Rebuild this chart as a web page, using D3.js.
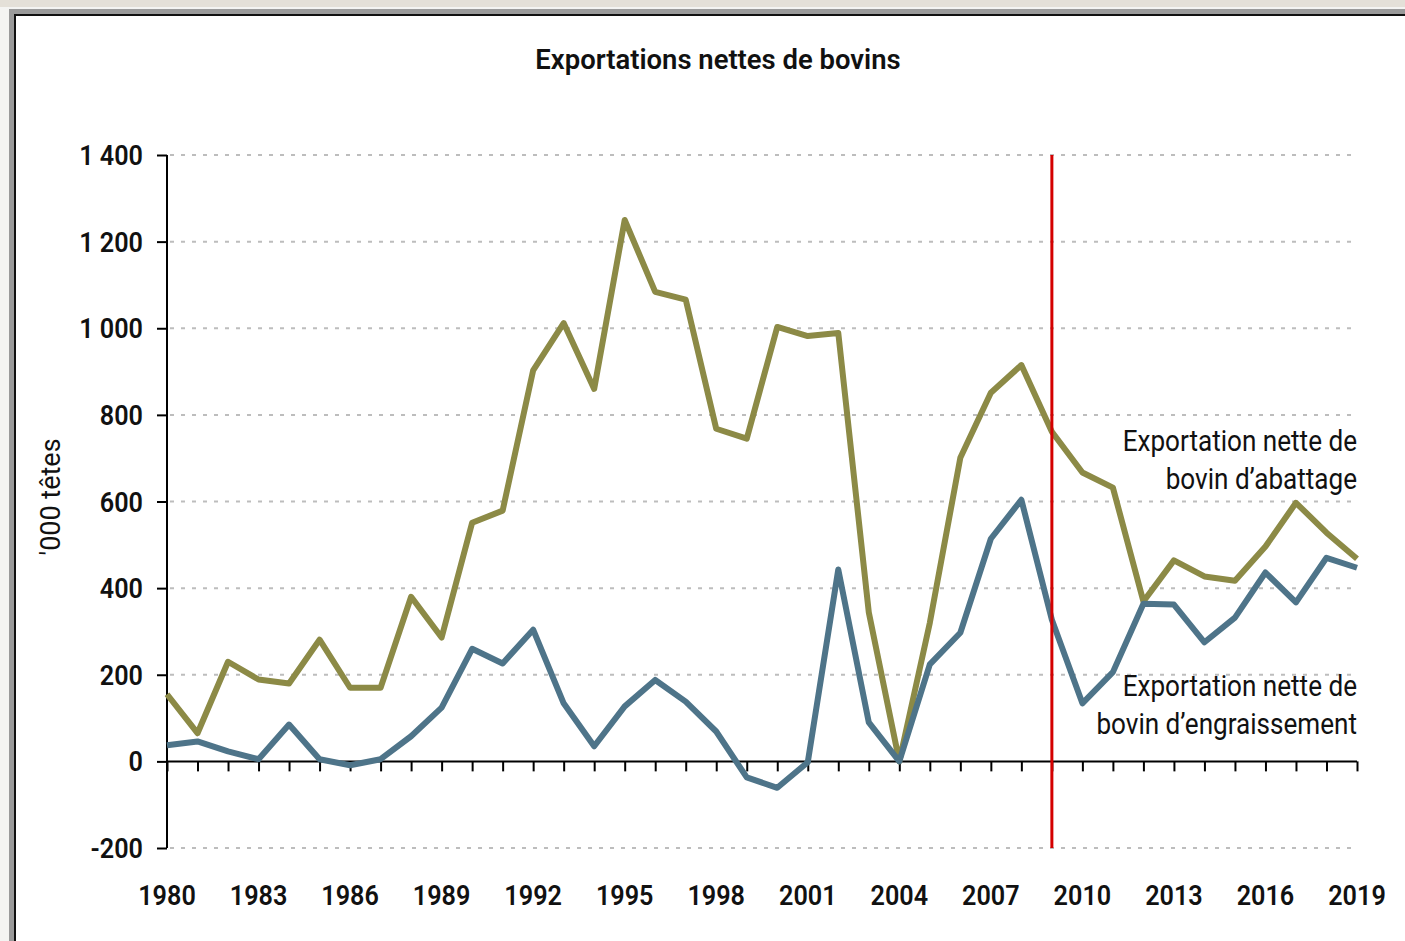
<!DOCTYPE html>
<html>
<head>
<meta charset="utf-8">
<script src="https://cdn.jsdelivr.net/npm/d3@7"></script>
<style>
  body { margin: 0; background: #e4e0d8; }
  text { font-family: "Liberation Sans Narrow", "Arial Narrow", "Roboto", sans-serif; fill: #111; }
</style>
</head>
<body>
<div id="container"></div>
<script>
let width = 1405;
let height = 941;

// data, '000 head
let years = d3.range(1980, 2020);
let abattage = [155, 65, 230, 189, 180, 281, 170, 170, 380, 286,
  551, 579, 903, 1012, 860, 1250, 1084, 1066, 768, 745,
  1003, 982, 989, 344, 0, 320, 701, 851, 915, 761,
  667, 632, 369, 464, 427, 417, 496, 597, 528, 468];
let engraissement = [37, 46, 23, 5, 85, 5, -9, 5, 58, 124,
  260, 226, 304, 134, 35, 127, 188, 138, 69, -37,
  -61, -2, 443, 90, 0, 224, 297, 514, 604, 327,
  134, 206, 364, 362, 275, 332, 436, 367, 470, 447];
let yTicks = [-200, 0, 200, 400, 600, 800, 1000, 1200, 1400];
let xLabels = [1980, 1983, 1986, 1989, 1992, 1995, 1998, 2001, 2004, 2007, 2010, 2013, 2016, 2019];
let markerYear = 2009;

let svg = d3.select("#container")
  .append("svg")
  .attr("width", width)
  .attr("height", height)
  .style("display", "block");

// frame
svg.append("rect").attr("x", 0).attr("y", 7).attr("width", width).attr("height", height).attr("fill", "#f4f4f2");
svg.append("rect").attr("x", 9).attr("y", 9).attr("width", width).attr("height", height).attr("fill", "#9a9a9a");
svg.append("rect").attr("x", 14).attr("y", 14).attr("width", width).attr("height", height).attr("fill", "#111");
svg.append("rect").attr("x", 16).attr("y", 16).attr("width", width).attr("height", height).attr("fill", "#fff");

let x = d3.scaleLinear().domain([1980, 2019]).range([167, 1357]);
let y = d3.scaleLinear().domain([-200, 1400]).range([848, 155]);

// gridlines
svg.append("g").selectAll("line").data(yTicks.filter(d => d !== 0))
  .enter().append("line")
  .attr("x1", 170).attr("x2", 1357)
  .attr("y1", d => y(d)).attr("y2", d => y(d))
  .attr("stroke", "#bdbdbd")
  .attr("stroke-width", 2)
  .attr("stroke-dasharray", "4,7");

// y axis
let yAxis = d3.axisLeft(y).tickValues(yTicks).tickSize(10).tickFormat("");
let gy = svg.append("g").attr("transform", "translate(167,0)").call(yAxis);
gy.selectAll("path, line").attr("stroke", "#000").attr("stroke-width", 2);
gy.select(".domain").attr("d", `M0,${y(-200)}V${y(1400)}`);

svg.append("g").selectAll("text").data(yTicks)
  .enter().append("text")
  .attr("transform", d => `translate(143,${y(d)}) scale(0.9,1)`)
  .attr("dy", "0.36em")
  .attr("text-anchor", "end")
  .style("font-size", "28px")
  .style("font-weight", "600")
  .text(d => d3.format(",")(d).replace(/,/g, " ").replace("\u2212", "-"));

// x axis at zero
let xAxis = d3.axisBottom(x).tickValues(years).tickSize(10).tickFormat("");
let gx = svg.append("g").attr("transform", `translate(0,${y(0)})`).call(xAxis);
gx.selectAll("path, line").attr("stroke", "#000").attr("stroke-width", 2);
gx.select(".domain").attr("d", `M${x(1980)},0H${x(2019)}`);

svg.append("g").selectAll("text").data(xLabels)
  .enter().append("text")
  .attr("transform", d => `translate(${x(d)},905) scale(0.9,1)`)
  .attr("text-anchor", "middle")
  .style("font-size", "28px")
  .style("font-weight", "600")
  .text(d => d);

// title and axis label
svg.append("text")
  .attr("transform", "translate(718,69) scale(0.98,1)")
  .attr("text-anchor", "middle")
  .style("font-size", "28px")
  .style("font-weight", "600")
  .text("Exportations nettes de bovins");

svg.append("text")
  .attr("transform", "translate(60,497) rotate(-90)")
  .attr("text-anchor", "middle")
  .style("font-size", "27px")
  .text("'000 têtes");

// lines
let line = d3.line().x((d, i) => x(years[i])).y(d => y(d));

svg.append("path").datum(abattage)
  .attr("d", line)
  .attr("fill", "none")
  .attr("stroke", "#8c8a46")
  .attr("stroke-width", 6)
  .attr("stroke-linejoin", "round");

svg.append("path").datum(engraissement)
  .attr("d", line)
  .attr("fill", "none")
  .attr("stroke", "#4e7489")
  .attr("stroke-width", 6)
  .attr("stroke-linejoin", "round");

// 2009 marker
svg.append("line")
  .attr("x1", x(markerYear)).attr("x2", x(markerYear))
  .attr("y1", y(1400)).attr("y2", y(-200))
  .attr("stroke", "#d40000")
  .attr("stroke-width", 3);

// labels
let labels = [
  { lines: ["Exportation nette de", "bovin d\u2019abattage"], y: 451 },
  { lines: ["Exportation nette de", "bovin d\u2019engraissement"], y: 696 }
];
labels.forEach(function (l) {
  l.lines.forEach(function (t, i) {
    svg.append("text")
      .attr("transform", `translate(1357,${l.y + i * 38}) scale(0.87,1)`)
      .attr("text-anchor", "end")
      .style("font-size", "30px")
      .text(t);
  });
});
</script>
</body>
</html>
